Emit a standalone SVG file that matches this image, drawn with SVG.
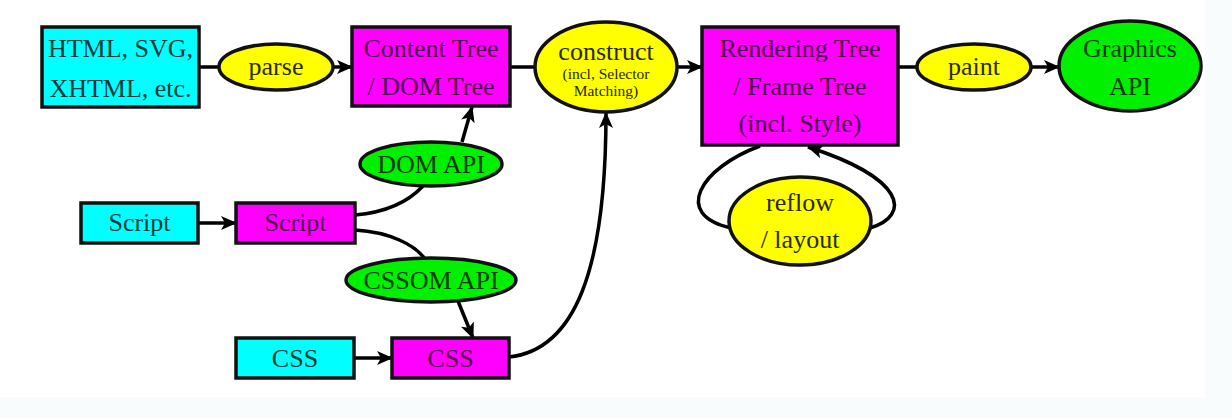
<svg xmlns="http://www.w3.org/2000/svg" width="1232" height="418" viewBox="0 0 1232 418">
<defs>
<marker id="ah" markerWidth="16" markerHeight="14" refX="15" refY="7" orient="auto" markerUnits="userSpaceOnUse">
<path d="M0,0 L16,7 L0,14 L4,7 Z" fill="#000"/>
</marker>
<style>
.box{stroke:#111;stroke-width:3.5}
.cy{fill:#00ffff}
.mg{fill:#ff00ff}
.yl{fill:#ffff00}
.gr{fill:#00f000}
.el{stroke:#111;stroke-width:3.5}
text{font-family:"Liberation Serif","Times New Roman",serif;font-size:26px;text-anchor:middle}
.tc{fill:#0a3a3a}
.tm{fill:#4a0a4a}
.ty{fill:#2a2a00}
.tg{fill:#063a06}
.sm{font-size:15.5px}
.con{fill:none;stroke:#000;stroke-width:3.5}
</style>
</defs>
<rect x="0" y="0" width="1232" height="418" fill="#f9fcfd"/>
<rect x="0" y="0" width="1205" height="397" fill="#ffffff"/>

<g id="connectors">
<line class="con" x1="199" y1="67" x2="219" y2="67"/>
<line class="con" x1="333" y1="67" x2="352" y2="67" marker-end="url(#ah)"/>
<line class="con" x1="510" y1="67" x2="535" y2="67"/>
<line class="con" x1="677" y1="67" x2="702" y2="67" marker-end="url(#ah)"/>
<line class="con" x1="898" y1="67" x2="917" y2="67"/>
<line class="con" x1="1031" y1="67" x2="1059" y2="67" marker-end="url(#ah)"/>
<line class="con" x1="198" y1="223" x2="236" y2="223" marker-end="url(#ah)"/>
<line class="con" x1="354" y1="358" x2="392" y2="358" marker-end="url(#ah)"/>
<path class="con" d="M355,215 C390,212 410,200 423,186"/>
<path class="con" d="M462,142 L472,107" marker-end="url(#ah)"/>
<path class="con" d="M355,230 C390,232 415,245 425,259"/>
<path class="con" d="M458,301 L473,338" marker-end="url(#ah)"/>
<path class="con" d="M509,357 C575,350 606,270 606,113" marker-end="url(#ah)"/>
<path class="con" d="M760,146 C700,168 672,215 731,228"/>
<path class="con" d="M870,228 C912,215 905,178 808,147" marker-end="url(#ah)"/>
</g>

<g id="html">
<rect class="box cy" x="42" y="27" width="157" height="80"/>
<text class="tc" x="120.5" y="57">HTML, SVG,</text>
<text class="tc" x="120.5" y="97">XHTML, etc.</text>
</g>
<g id="parse">
<ellipse class="el yl" cx="276" cy="67" rx="57" ry="23"/>
<text class="ty" x="276" y="75">parse</text>
</g>
<g id="content-tree">
<rect class="box mg" x="352" y="27" width="158" height="79"/>
<text class="tm" x="431" y="57">Content Tree</text>
<text class="tm" x="431" y="95">/ DOM Tree</text>
</g>
<g id="construct">
<ellipse class="el yl" cx="606" cy="67" rx="71" ry="45"/>
<text class="ty" x="606" y="60">construct</text>
<text class="ty sm" x="606" y="79">(incl, Selector</text>
<text class="ty sm" x="606" y="96">Matching)</text>
</g>
<g id="rendering-tree">
<rect class="box mg" x="702" y="27" width="196" height="118"/>
<text class="tm" x="800" y="57">Rendering Tree</text>
<text class="tm" x="800" y="95">/ Frame Tree</text>
<text class="tm" x="800" y="132">(incl. Style)</text>
</g>
<g id="paint">
<ellipse class="el yl" cx="974" cy="67" rx="57" ry="23"/>
<text class="ty" x="974" y="75">paint</text>
</g>
<g id="graphics-api">
<ellipse class="el gr" cx="1130" cy="66" rx="71" ry="45"/>
<text class="tg" x="1130" y="57">Graphics</text>
<text class="tg" x="1130" y="95">API</text>
</g>
<g id="script-src">
<rect class="box cy" x="81" y="203" width="117" height="40"/>
<text class="tc" x="139.5" y="231">Script</text>
</g>
<g id="script">
<rect class="box mg" x="236" y="203" width="119" height="40"/>
<text class="tm" x="295.5" y="231">Script</text>
</g>
<g id="dom-api">
<ellipse class="el gr" cx="431" cy="164" rx="71" ry="22"/>
<text class="tg" x="431" y="173">DOM API</text>
</g>
<g id="cssom-api">
<ellipse class="el gr" cx="431" cy="280" rx="85" ry="22"/>
<text class="tg" x="431" y="289">CSSOM API</text>
</g>
<g id="css-src">
<rect class="box cy" x="236" y="338" width="118" height="40"/>
<text class="tc" x="295" y="367">CSS</text>
</g>
<g id="css">
<rect class="box mg" x="392" y="338" width="117" height="40"/>
<text class="tm" x="450.5" y="367">CSS</text>
</g>
<g id="reflow">
<ellipse class="el yl" cx="800" cy="221" rx="71" ry="44"/>
<text class="ty" x="800" y="211">reflow</text>
<text class="ty" x="800" y="248">/ layout</text>
</g>
</svg>
